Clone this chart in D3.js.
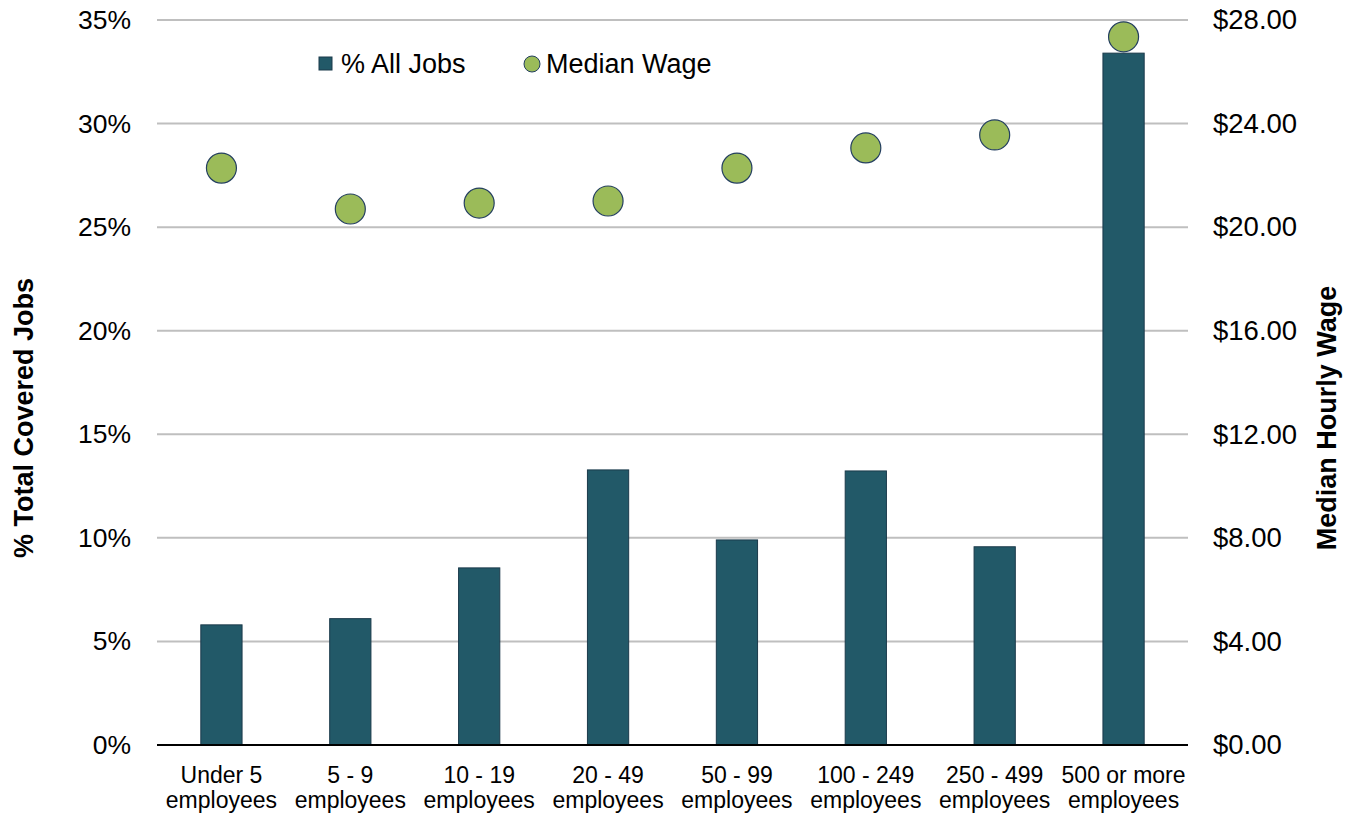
<!DOCTYPE html>
<html><head><meta charset="utf-8">
<script src="https://cdn.jsdelivr.net/npm/d3@7"></script>
<style>body{margin:0;background:#fff}svg{display:block;font-family:"Liberation Sans",Arial,sans-serif}</style>
</head><body><svg id="c" width="1353" height="816"></svg>
<script>
const categories = [["Under 5","employees"],["5 - 9","employees"],["10 - 19","employees"],["20 - 49","employees"],["50 - 99","employees"],["100 - 249","employees"],["250 - 499","employees"],["500 or more","employees"]];
const jobsPct = [5.8, 6.1, 8.55, 13.28, 9.9, 13.23, 9.57, 33.4];
const medianWage = [22.28, 20.7, 20.93, 21.01, 22.28, 23.06, 23.56, 27.35];
const leftTicks = [0,5,10,15,20,25,30,35];
const rightTicks = [0,4,8,12,16,20,24,28];

const svg = d3.select("#c");
const L=157, R=1188, T=20, B=745;
const keys = categories.map((c,i)=>i);
const x = d3.scaleBand().domain(keys).range([L,R]).paddingInner(0.68).paddingOuter(0.34);
const yL = d3.scaleLinear().domain([0,35]).range([B,T]);
const yR = d3.scaleLinear().domain([0,28]).range([B,T]);

// gridlines
svg.append("g").selectAll("line").data(leftTicks.slice(1)).join("line")
  .attr("x1",L).attr("x2",R).attr("y1",d=>yL(d)).attr("y2",d=>yL(d))
  .attr("stroke","#BFBFBF").attr("stroke-width",2);

// bars
svg.append("g").selectAll("rect").data(jobsPct).join("rect")
  .attr("x",(d,i)=>x(i)).attr("width",x.bandwidth())
  .attr("y",d=>yL(d)).attr("height",d=>B-yL(d))
  .attr("fill","#225968").attr("stroke","#1B3A4B").attr("stroke-width",1);

// baseline
svg.append("line").attr("x1",L).attr("x2",R).attr("y1",B).attr("y2",B).attr("stroke","#000").attr("stroke-width",2);

// dots
svg.append("g").selectAll("circle").data(medianWage).join("circle")
  .attr("cx",(d,i)=>x(i)+x.bandwidth()/2).attr("cy",d=>yR(d)).attr("r",15)
  .attr("fill","#9BBB59").attr("stroke","#243F60").attr("stroke-width",1.2);

// left axis
const aL = d3.axisLeft(yL).tickValues(leftTicks).tickFormat(d=>d+"%").tickSize(0).tickPadding(26);
const gL = svg.append("g").attr("transform",`translate(${L},0)`).call(aL);
gL.select(".domain").remove();
gL.selectAll("text").attr("font-size",26.5).attr("fill","#000").attr("font-family","Liberation Sans, Arial, sans-serif");

// right axis
const aR = d3.axisRight(yR).tickValues(rightTicks).tickFormat(d=>"$"+d.toFixed(2)).tickSize(0).tickPadding(25);
const gR = svg.append("g").attr("transform",`translate(${R},0)`).call(aR);
gR.select(".domain").remove();
gR.selectAll("text").attr("font-size",27.5).attr("fill","#000").attr("font-family","Liberation Sans, Arial, sans-serif");

// x labels
const gx = svg.append("g");
categories.forEach((c,i)=>{
  const t = gx.append("text").attr("x",x(i)+x.bandwidth()/2).attr("text-anchor","middle").attr("font-size",23).attr("fill","#000");
  t.append("tspan").attr("x",x(i)+x.bandwidth()/2).attr("y",783).text(c[0]);
  t.append("tspan").attr("x",x(i)+x.bandwidth()/2).attr("y",808).text(c[1]);
});

// axis titles
svg.append("text").attr("transform","translate(33,418) rotate(-90)").attr("text-anchor","middle")
  .attr("font-size",27).attr("font-weight","bold").text("% Total Covered Jobs");
svg.append("text").attr("transform","translate(1336,418) rotate(-90)").attr("text-anchor","middle")
  .attr("font-size",27).attr("font-weight","bold").text("Median Hourly Wage");

// legend
const lg = svg.append("g");
lg.append("rect").attr("x",319).attr("y",57).attr("width",13).attr("height",13).attr("fill","#225968").attr("stroke","#1B3A4B");
lg.append("text").attr("x",341).attr("y",73).attr("font-size",27).text("% All Jobs");
lg.append("circle").attr("cx",532).attr("cy",64).attr("r",8).attr("fill","#9BBB59").attr("stroke","#243F60");
lg.append("text").attr("x",546).attr("y",73).attr("font-size",27).text("Median Wage");
</script></body></html>
